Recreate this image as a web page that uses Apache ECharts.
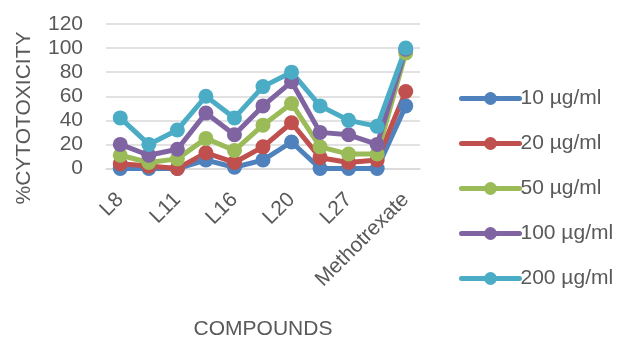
<!DOCTYPE html>
<html>
<head>
<meta charset="utf-8">
<script src="https://cdn.jsdelivr.net/npm/echarts@6/dist/echarts.min.js"></script>
<style>
  html, body { margin: 0; padding: 0; background: #ffffff; }
  #chart { width: 619px; height: 340px; }
</style>
</head>
<body>
<div id="chart"></div>
<script>
// Compounds tested (every other label is shown on the axis)
const compounds = ['L8', 'L10', 'L11', 'L13', 'L16', 'L18', 'L20', 'L24', 'L27', 'L29', 'Methotrexate'];

// % cytotoxicity per concentration
const dose10  = [0, 0, 0, 7, 1, 7, 22, 0, 0, 0, 52];
const dose20  = [4, 2, 0, 13, 5, 18, 38, 9, 5, 7, 64];
const dose50  = [11, 5, 8, 25, 15, 36, 54, 18, 12, 12, 96];
const dose100 = [20, 11, 16, 46, 28, 52, 72, 30, 28, 20, 99];
const dose200 = [42, 20, 32, 60, 42, 68, 80, 52, 40, 35, 100];

const seriesNames = ['10 µg/ml', '20 µg/ml', '50 µg/ml', '100 µg/ml', '200 µg/ml'];
const yTicks = [0, 20, 40, 60, 80, 100, 120];

const colors = ['#4F81BD', '#C0504D', '#9BBB59', '#8064A2', '#4BACC6'];
const allData = [dose10, dose20, dose50, dose100, dose200];
const fontFamily = '"Liberation Sans", Arial, sans-serif';
const textColor = '#595959';

const chart = echarts.init(document.getElementById('chart'), null, { renderer: 'canvas' });

chart.setOption({
  animation: false,
  color: colors,
  textStyle: { fontFamily: fontFamily, color: textColor },
  grid: { left: 106, right: 199, top: 24, bottom: 171.5, containLabel: false },
  legend: {
    orient: 'vertical',
    left: 454,
    top: 83,
    itemWidth: 58,
    itemHeight: 16,
    itemGap: 24,
    lineStyle: { width: 5, cap: 'round' },
    textStyle: { fontSize: 21, color: textColor, fontFamily: fontFamily, padding: [0, 0, 0, -4] },
    data: seriesNames
  },
  xAxis: {
    type: 'category',
    data: compounds,
    boundaryGap: true,
    axisLine: { show: true, lineStyle: { color: '#D9D9D9', width: 1.5 } },
    axisTick: { show: false },
    axisLabel: {
      interval: 1,
      rotate: 45,
      margin: 28,
      fontSize: 21,
      color: textColor,
      fontFamily: fontFamily
    }
  },
  yAxis: {
    type: 'value',
    min: yTicks[0],
    max: yTicks[yTicks.length - 1],
    interval: 20,
    axisLine: { show: false },
    axisTick: { show: false },
    splitLine: { lineStyle: { color: '#D9D9D9', width: 1.5 } },
    axisLabel: { fontSize: 21, margin: 23, color: textColor, fontFamily: fontFamily }
  },
  graphic: [
    {
      type: 'text',
      x: 24,
      y: 118,
      rotation: Math.PI / 2,
      style: {
        text: '%CYTOTOXICITY',
        fontSize: 21,
        fontFamily: fontFamily,
        fill: textColor,
        align: 'center',
        verticalAlign: 'middle'
      }
    },
    {
      type: 'text',
      x: 263,
      y: 329,
      style: {
        text: 'COMPOUNDS',
        fontSize: 21,
        fontFamily: fontFamily,
        fill: textColor,
        align: 'center',
        verticalAlign: 'middle'
      }
    }
  ],
  series: seriesNames.map((name, i) => ({
    name: name,
    type: 'line',
    data: allData[i],
    symbol: 'circle',
    symbolSize: 15,
    lineStyle: { width: 5, color: colors[i], cap: 'round', join: 'round' },
    itemStyle: { color: colors[i] },
    emphasis: { disabled: true }
  }))
});
</script>
</body>
</html>
